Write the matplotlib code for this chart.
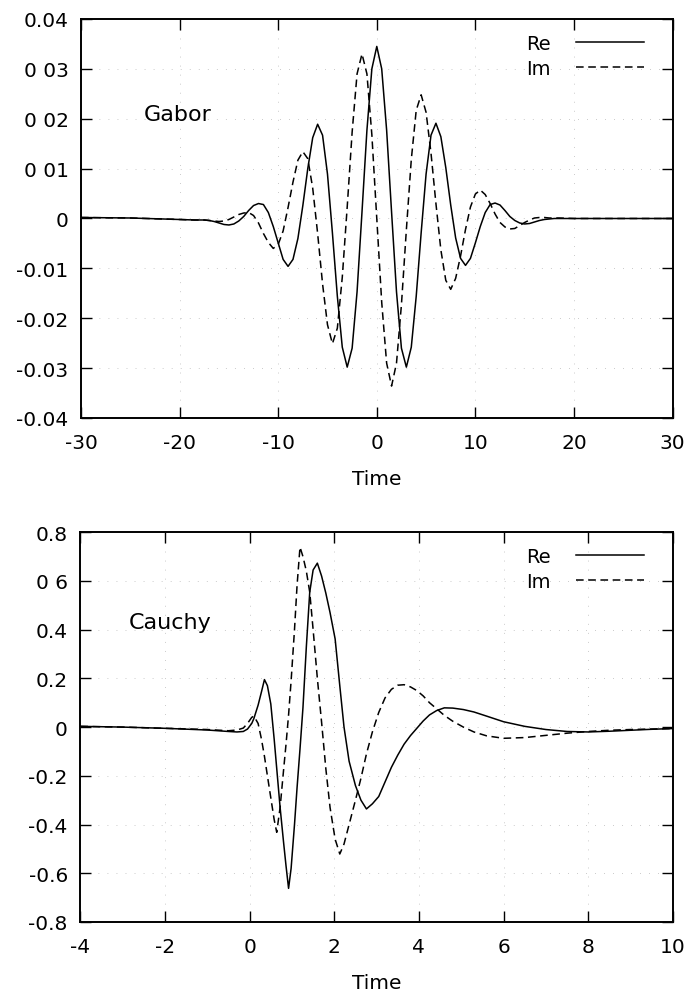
import matplotlib
matplotlib.use("Agg")
import matplotlib.pyplot as plt

plt.rcParams["font.family"] = ["DejaVu Sans"]

# Gabor wavelet
gabor_t = [
    -30, -25, -20, -18.5,
    -18.0, -17.5, -17.0, -16.5, -16.0, -15.5, -15.0, -14.5, -14.0, -13.5,
    -13.0, -12.5, -12.0, -11.5, -11.0, -10.5, -10.0, -9.5, -9.0, -8.5,
    -8.0, -7.5, -7.0, -6.5, -6.0, -5.5, -5.0, -4.5, -4.0, -3.5,
    -3.0, -2.5, -2.0, -1.5, -1.0, -0.5, 0.0, 0.5, 1.0, 1.5,
    2.0, 2.5, 3.0, 3.5, 4.0, 4.5, 5.0, 5.5, 6.0, 6.5,
    7.0, 7.5, 8.0, 8.5, 9.0, 9.5, 10.0, 10.5, 11.0, 11.5,
    12.0, 12.5, 13.0, 13.5, 14.0, 14.5, 15.0, 15.5, 16.0, 16.5,
    17.0, 17.5, 18.0,
    18.5, 20, 25, 30,
]
gabor_re = [
    0.0002, 0.0001, -0.0002, -0.0003,
    -0.0003, -0.0003, -0.0004, -0.0006, -0.0009, -0.0012, -0.0013, -0.0011, -0.0005, 0.0004,
    0.0016, 0.0026, 0.0030, 0.0028, 0.0012, -0.0016, -0.0049, -0.0082, -0.0096, -0.0082,
    -0.0040, 0.0026, 0.0100, 0.0162, 0.0189, 0.0167, 0.0089, -0.0029, -0.0156, -0.0258,
    -0.0298, -0.0260, -0.0147, 0.0013, 0.0177, 0.0300, 0.0345, 0.0300, 0.0177, 0.0013,
    -0.0147, -0.0260, -0.0298, -0.0258, -0.0156, -0.0029, 0.0089, 0.0167, 0.0191, 0.0164,
    0.0102, 0.0027, -0.0039, -0.0080, -0.0094, -0.0080, -0.0049, -0.0016, 0.0012, 0.0028,
    0.0031, 0.0027, 0.0016, 0.0004, -0.0004, -0.0009, -0.0011, -0.0010, -0.0007, -0.0004,
    -0.0002, -0.0001, 0.0000,
    0.0000, 0.0000, 0.0000, 0.0000,
]
gabor_im = [
    0.0002, 0.0001, -0.0002, -0.0003,
    -0.0003, -0.0003, -0.0004, -0.0005, -0.0006, -0.0005, -0.0002, 0.0003, 0.0008, 0.0011,
    0.0012, 0.0006, -0.0009, -0.0030, -0.0048, -0.0060, -0.0052, -0.0025, 0.0022, 0.0073,
    0.0117, 0.0134, 0.0120, 0.0061, -0.0030, -0.0131, -0.0213, -0.0251, -0.0220, -0.0118,
    0.0023, 0.0173, 0.0290, 0.0330, 0.0290, 0.0168, 0.0000, -0.0168, -0.0290, -0.0336,
    -0.0290, -0.0173, -0.0023, 0.0118, 0.0217, 0.0248, 0.0213, 0.0131, 0.0030, -0.0063,
    -0.0124, -0.0142, -0.0120, -0.0075, -0.0022, 0.0023, 0.0049, 0.0057, 0.0048, 0.0030,
    0.0009, -0.0008, -0.0017, -0.0021, -0.0020, -0.0014, -0.0008, -0.0003, 0.0001, 0.0002,
    0.0002, 0.0001, 0.0001,
    0.0001, 0.0000, 0.0000, 0.0000,
]

# Cauchy wavelet
cauchy_t = [
    -4.0, -3.0, -2.0, -1.0, -0.5, -0.3, -0.15, -0.05, 0.05, 0.1,
    0.2, 0.28, 0.35, 0.42, 0.5, 0.58, 0.64, 0.72, 0.8, 0.86,
    0.92, 0.98, 1.06, 1.12, 1.19, 1.26, 1.34, 1.42, 1.5, 1.6,
    1.7, 1.8, 1.9, 2.02, 2.13, 2.23, 2.35, 2.5, 2.63, 2.76,
    2.9, 3.05, 3.2, 3.35, 3.5, 3.65, 3.8, 3.95, 4.1, 4.25,
    4.42, 4.6, 4.8, 5.05, 5.3, 5.6, 6.0, 6.5, 7.0, 7.5,
    8.0, 8.5, 9.0, 9.5, 10.0,
]
cauchy_re = [
    0.003, 0.000, -0.005, -0.012, -0.018, -0.020, -0.018, -0.008, 0.015, 0.035,
    0.09, 0.145, 0.195, 0.17, 0.095, -0.05, -0.17, -0.33, -0.47, -0.57,
    -0.662, -0.58, -0.40, -0.25, -0.09, 0.08, 0.33, 0.554, 0.645, 0.673,
    0.62, 0.55, 0.47, 0.362, 0.17, 0.0, -0.14, -0.24, -0.30, -0.336,
    -0.315, -0.285, -0.225, -0.165, -0.115, -0.07, -0.035, -0.005, 0.025, 0.05,
    0.068, 0.079, 0.078, 0.072, 0.062, 0.045, 0.022, 0.003, -0.010, -0.018,
    -0.020, -0.017, -0.013, -0.009, -0.006,
]
cauchy_im = [
    0.003, 0.000, -0.005, -0.010, -0.015, -0.012, -0.004, 0.015, 0.040, 0.045,
    0.015, -0.05, -0.12, -0.20, -0.29, -0.38, -0.432, -0.33, -0.18, -0.07,
    0.05, 0.19, 0.40, 0.58, 0.739, 0.70, 0.64, 0.554, 0.40, 0.20,
    0.02, -0.17, -0.33, -0.46, -0.521, -0.48, -0.40, -0.30, -0.21, -0.11,
    -0.02, 0.06, 0.12, 0.155, 0.172, 0.174, 0.165, 0.15, 0.128, 0.10,
    0.075, 0.048, 0.024, 0.0, -0.02, -0.036, -0.046, -0.043, -0.034, -0.025,
    -0.018, -0.013, -0.010, -0.008, -0.006,
]

gabor_xticks = [-30, -20, -10, 0, 10, 20, 30]
gabor_yticks = [0.04, 0.03, 0.02, 0.01, 0.0, -0.01, -0.02, -0.03, -0.04]
gabor_ylabels = ["0.04", "0 03", "0 02", "0 01", "0", "-0.01", "-0.02", "-0.03", "-0.04"]

cauchy_xticks = [-4, -2, 0, 2, 4, 6, 8, 10]
cauchy_yticks = [0.8, 0.6, 0.4, 0.2, 0.0, -0.2, -0.4, -0.6, -0.8]
cauchy_ylabels = ["0.8", "0 6", "0.4", "0.2", "0", "-0.2", "-0.4", "-0.6", "-0.8"]

FS = 14.5


def style_axes(ax, xticks, yticks, ylabels):
    ax.set_xticks(xticks)
    ax.set_xticklabels([str(v) for v in xticks])
    ax.set_yticks(yticks)
    ax.set_yticklabels(ylabels)
    ax.tick_params(direction="in", length=8, width=1.0, top=True, right=True,
                   labelsize=FS, pad=9)
    ax.tick_params(axis="x", pad=11)
    for sp in ax.spines.values():
        sp.set_linewidth(1.4)
    # faint dotted grid, as in the scanned original
    ax.grid(True, color="0.6", linestyle=(0, (1, 12)), linewidth=0.5)
    ax.set_xlabel("Time", fontsize=FS, labelpad=12)


def draw_panel(ax, t, re, im, name, name_xy):
    ax.plot(t, re, color="black", linewidth=1.1, label="Re")
    ax.plot(t, im, color="black", linewidth=1.1, dashes=(5, 3), label="Im")
    ax.text(name_xy[0], name_xy[1], name, fontsize=16, va="center")
    ax.legend(loc="upper right", bbox_to_anchor=(0.952, 0.962), frameon=False,
              markerfirst=False, fontsize=14, handlelength=3.5,
              handletextpad=1.3, labelspacing=0.3, borderpad=0,
              borderaxespad=0)


def main() -> None:
    fig = plt.figure(figsize=(6.89, 9.95), dpi=100)

    ax1 = fig.add_axes([0.1176, 0.5789, 0.8585, 0.4010])
    draw_panel(ax1, gabor_t, gabor_re, gabor_im, "Gabor", (-23.6, 0.021))
    ax1.set_xlim(-30, 30)
    ax1.set_ylim(-0.04, 0.04)
    style_axes(ax1, gabor_xticks, gabor_yticks, gabor_ylabels)

    ax2 = fig.add_axes([0.1166, 0.0724, 0.8600, 0.3917])
    draw_panel(ax2, cauchy_t, cauchy_re, cauchy_im, "Cauchy", (-2.85, 0.43))
    ax2.set_xlim(-4, 10)
    ax2.set_ylim(-0.8, 0.8)
    style_axes(ax2, cauchy_xticks, cauchy_yticks, cauchy_ylabels)

    fig.savefig("out.png", dpi=100)
    plt.close(fig)


if __name__ == "__main__":
    main()
